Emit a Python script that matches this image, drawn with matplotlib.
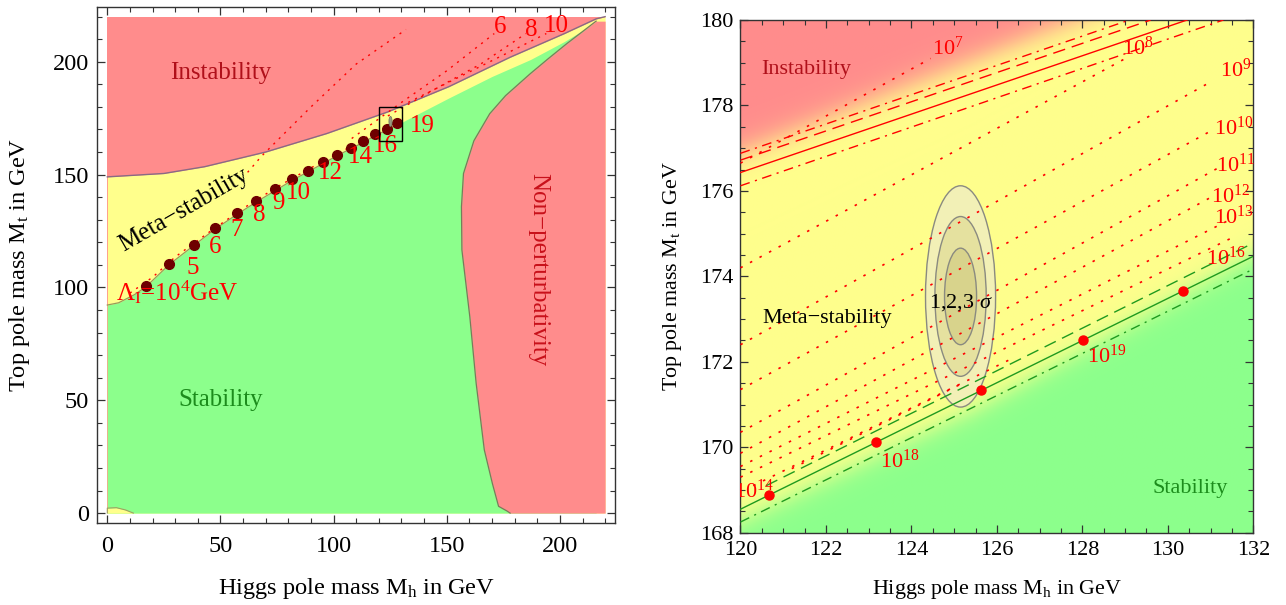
import matplotlib
matplotlib.use("Agg")
import matplotlib.pyplot as plt
import numpy as np
from matplotlib.patches import Rectangle, Ellipse

plt.rcParams['font.family'] = ['Liberation Serif', 'DejaVu Serif']
plt.rcParams['mathtext.fontset'] = 'custom'
plt.rcParams['mathtext.rm'] = 'Liberation Serif'
plt.rcParams['mathtext.it'] = 'Liberation Serif:italic'
plt.rcParams['mathtext.bf'] = 'Liberation Serif:bold'

RED = '#ff8c8c'
YEL = '#ffff8c'
GRN = '#8cff8c'
TXT_RED = '#b0101a'

# ---------------- left panel data (GeV) ----------------
instab_mh = [0, 25, 43, 70, 97, 124, 151, 178, 202, 216, 220]
instab_mt = [149, 150.5, 153.5, 160, 168.2, 177.8, 189, 202, 212.5, 219, 220]

stab_mh = [0, 5, 12, 17, 27.3, 38.1, 47.7, 57.2, 65.9, 74.2, 81.6, 88.8, 95.5,
           101.6, 107.6, 113.2, 118.4, 123.5, 128.2, 151, 170, 187, 202, 216]
stab_mt = [92.2, 93.2, 96.8, 100.2, 110.1, 118.5, 125.9, 132.3, 137.9, 142.9, 147.4,
           151.3, 155.0, 158.4, 161.5, 164.3, 167.3, 169.7, 172.2, 184, 193.5, 201, 209, 217.5]

nonpert_mt = [0, 1, 3, 13, 28, 57.5, 87, 116.6, 135.8, 150.5, 165, 177, 185, 194.8,
              201.5, 208, 213, 218]
nonpert_mh = [178, 176.5, 172.9, 170.2, 166.6, 163, 160.2, 156.7, 156.5, 157.4, 162, 169,
              176, 187, 195, 203, 209.5, 216]

blob_mh = [0, 0, 4, 8, 11.5]
blob_mt = [0, 2.2, 2.4, 1.4, 0]

dot_mh = [17, 27.3, 38.1, 47.7, 57.2, 65.9, 74.2, 81.6, 88.8, 95.5, 101.6, 107.6,
          113.2, 118.4, 123.5, 128.2]
dot_mt = [100.7, 110.6, 119, 126.4, 132.8, 138.4, 143.4, 147.9, 151.8, 155.5, 158.9,
          162, 164.8, 167.8, 170.2, 172.7]

num_labels = ['5', '6', '7', '8', '9', '10', '12', '14', '16', '19']
num_mh = [37.6, 47.6, 57.2, 67.1, 75.8, 84.3, 98.7, 111.7, 123.0, 139.0]
num_mt = [108.4, 118.0, 125.4, 132.0, 137.2, 142.0, 150.5, 157.9, 162.8, 171.6]

top_labels = ['6', '8', '10']
top_mh = [173.6, 187.5, 198.4]
top_mt = [215.5, 214.3, 215.8]

# dotted Lambda_I contours in the left panel
left_lines = [
    ([62, 68, 90, 110, 132], [151, 158, 180, 199, 214.3]),
    ([108, 130, 150, 171], [166, 182, 196, 212.5]),
    ([124, 145, 165, 185], [176, 188, 199, 212.5]),
    ([133, 155, 175, 194], [182, 193, 203, 212.5]),
    ([10, 20, 30, 45, 60, 75, 90, 105, 118], [97.5, 104.5, 113.5, 124.5, 135, 144.5, 153, 161, 168.5]),
]

# ---------------- right panel data (GeV) ----------------
red_solid = ([120, 130.45], [176.43, 180])
red_dash = ([120, 129.6], [176.72, 180])
red_dashdot_up = ([120, 129.1], [176.88, 180])
red_dashdot = ([120, 131.3], [176.12, 180])

grn_solid = ([120, 132], [168.55, 174.47])
grn_dash = ([120.6, 132], [169.1, 174.78])
grn_dashdot = ([120, 132], [168.25, 174.17])

# gradient edges of the shaded regions
instab_edge_mh = [120, 127.8, 132]
instab_edge_mt = [176.9, 180, 181.67]
stab_edge_mh = [120, 125.5, 132]
stab_edge_mt = [168.3, 170.9, 174.5]

right_dotted = [
    ([120, 124.45], [176.65, 179.1]),
    ([120, 129.1], [174.2, 179.15]),
    ([120, 131.0], [172.4, 178.55]),
    ([120, 131.0], [171.35, 177.4]),
    ([120, 131.2], [170.35, 176.55]),
    ([120, 131.1], [169.86, 175.9]),
    ([120, 131.5], [169.55, 175.35]),
    ([120, 131.6], [169.3, 174.95]),
    ([120.3, 126.3], [169.1, 172.05]),
    ([121.2, 125.2], [169.5, 171.5]),
]

rdot_mh = [120.66, 123.18, 125.63, 128.02, 130.36]
rdot_mt = [168.88, 170.12, 171.33, 172.51, 173.66]

exp_labels = ['$10^{7}$', '$10^{8}$', '$10^{9}$', '$10^{10}$', '$10^{11}$',
              '$10^{12}$', '$10^{13}$', '$10^{16}$', '$10^{18}$', '$10^{19}$']
exp_mh = [124.49, 128.93, 131.22, 131.08, 131.12, 131.02, 131.08, 130.9, 123.26, 128.11]
exp_mt = [179.33, 179.33, 178.83, 177.46, 176.59, 175.87, 175.38, 174.42, 169.67, 172.12]
cut_label, cut_mh, cut_mt = '$10^{14}$', 119.84, 168.96

# best fit and 1,2,3 sigma contours
fit_mh, fit_mt = 125.15, 173.53
sig_w = [0.82, 0.60, 0.375]
sig_h = [2.59, 1.87, 1.13]
sig_col = ['#f2f0b6', '#e5e19f', '#d8d38c']

fig = plt.figure(figsize=(12.86, 6.05), dpi=100)
ax1 = fig.add_axes([0.0757, 0.1355, 0.4026, 0.8534])
ax2 = fig.add_axes([0.5758, 0.1195, 0.39876, 0.84744])

# ---------------- left panel ----------------
ax1.fill_between([0, 220], [0, 0], [220, 220], color=RED, lw=0, zorder=1)
ax1.fill_between(instab_mh, 0, instab_mt, color=YEL, lw=0, zorder=2)
ax1.fill_between(stab_mh, 0, stab_mt, color=GRN, lw=0, zorder=3)
ax1.fill_betweenx(nonpert_mt, nonpert_mh, 220, color=RED, lw=0, zorder=4)
ax1.fill_between(blob_mh, 0, blob_mt, color=YEL, lw=0, zorder=4)
ax1.plot(blob_mh, blob_mt, color='#a0a060', lw=0.8, zorder=5)
ax1.plot(instab_mh, instab_mt, color='#8a6a84', lw=1.0, zorder=5)
ax1.plot(stab_mh[:19], stab_mt[:19], color='#9a9a5a', lw=0.9, zorder=5)
ax1.plot(nonpert_mh, nonpert_mt, color='#7a7a5a', lw=0.9, zorder=5)

for lx, ly in left_lines:
    ax1.plot(lx, ly, color='red', lw=1.0, ls=(0, (1.5, 4)), zorder=6)

ax1.plot(dot_mh, dot_mt, 'o', color='#6e0000', ms=7, zorder=7)
for lab, x, y in zip(num_labels, num_mh, num_mt):
    ax1.text(x, y, lab, color='red', fontsize=18, ha='center', va='center', zorder=8)
for lab, x, y in zip(top_labels, top_mh, top_mt):
    ax1.text(x, y, lab, color='red', fontsize=18, ha='center', va='center', zorder=8)
ax1.text(31, 98.1, r'$\Lambda_{\mathrm{I}}$=10$^{4}$GeV', color='red', fontsize=18,
         ha='center', va='center', zorder=8)

ax1.add_patch(Rectangle((120, 165), 10.3, 15, fill=False, ec='black', lw=1.0, zorder=9))
ax1.add_patch(Ellipse((fit_mh, fit_mt), 1.4, 4.5, fc='#9a9a80', ec='#707060', lw=0.5, zorder=8))

ax1.text(50, 195.2, 'Instability', color=TXT_RED, fontsize=18, ha='center', va='center', zorder=8)
ax1.text(50, 49.9, 'Stability', color='#1c8c1c', fontsize=18, ha='center', va='center', zorder=8)
ax1.text(33.8, 134.3, 'Meta\u2212stability', color='black', fontsize=18, ha='center',
         va='center', rotation=30, rotation_mode='anchor', zorder=8)
ax1.text(190.3, 108, 'Non\u2212perturbativity', color='#c8101a', fontsize=18, ha='center',
         va='center', rotation=-90, zorder=8)

ax1.set_xlim(-4.4, 224.4)
ax1.set_ylim(-4.4, 224.4)
ax1.set_xticks([0, 50, 100, 150, 200])
ax1.set_yticks([0, 50, 100, 150, 200])
ax1.set_xticks(np.arange(0, 221, 10), minor=True)
ax1.set_yticks(np.arange(0, 221, 10), minor=True)
ax1.tick_params(axis='x', pad=9, labelsize=17.5)
ax1.tick_params(axis='y', pad=6, labelsize=17.5)
ax1.set_xlabel(r'Higgs pole mass M$_{\mathrm{h}}$ in GeV', fontsize=17.6)
ax1.set_ylabel(r'Top pole mass M$_{\mathrm{t}}$ in GeV', fontsize=17.6)
ax1.xaxis.set_label_coords(0.5, -0.103)
ax1.yaxis.set_label_coords(-0.126, 0.5)

# ---------------- right panel ----------------
gx = np.linspace(120, 132, 700)
gy = np.linspace(168, 180, 700)
X, Y = np.meshgrid(gx, gy)
red_edge = np.interp(X, instab_edge_mh, instab_edge_mt)
grn_edge = np.interp(X, stab_edge_mh, stab_edge_mt)
wr = 1 / (1 + np.exp(-(Y - red_edge) / 0.2))
wg = 1 / (1 + np.exp((Y - grn_edge) / 0.18))
wy = np.clip(1 - wr - wg, 0, 1)
cr = np.array(matplotlib.colors.to_rgb(RED))
cy = np.array(matplotlib.colors.to_rgb(YEL))
cg = np.array(matplotlib.colors.to_rgb(GRN))
img = wr[..., None] * cr + wy[..., None] * cy + wg[..., None] * cg
img = np.clip(img / (wr + wy + wg)[..., None], 0, 1)
ax2.imshow(img, extent=[120, 132, 168, 180], origin='lower', aspect='auto',
           interpolation='bilinear', zorder=0)

for w, h, c in zip(sig_w, sig_h, sig_col):
    ax2.add_patch(Ellipse((fit_mh, fit_mt), 2 * w, 2 * h, fc=c, ec='#8a8a80', lw=1.0, zorder=2))

for lx, ly in right_dotted:
    ax2.plot(lx, ly, color='red', lw=1.2, ls=(0, (1.5, 5)), zorder=3)

ax2.plot(*red_solid, color='red', lw=1.0, zorder=3)
ax2.plot(*red_dash, color='red', lw=1.0, ls=(0, (9, 5)), zorder=3)
ax2.plot(*red_dashdot_up, color='red', lw=1.0, ls=(0, (7, 4, 1.5, 4)), zorder=3)
ax2.plot(*red_dashdot, color='red', lw=1.0, ls=(0, (7, 4, 1.5, 4)), zorder=3)
ax2.plot(*grn_solid, color='#1f9a1f', lw=1.0, zorder=3)
ax2.plot(*grn_dash, color='#1f9a1f', lw=1.0, ls=(0, (9, 5)), zorder=3)
ax2.plot(*grn_dashdot, color='#1f9a1f', lw=1.0, ls=(0, (7, 4, 1.5, 4)), zorder=3)

ax2.plot(rdot_mh, rdot_mt, 'o', color='red', ms=6.5, zorder=5)

for lab, x, y in zip(exp_labels, exp_mh, exp_mt):
    ax2.text(x, y, lab, color='red', fontsize=16, ha='left', va='center', zorder=6)
ax2.text(cut_mh, cut_mt, cut_label, color='red', fontsize=16, ha='left', va='center',
         zorder=6, clip_on=True)

ax2.text(fit_mh, 173.38, r'1,2,3 $\sigma$', color='black', fontsize=16, ha='center',
         va='center', zorder=6)
ax2.text(120.48, 178.83, 'Instability', color=TXT_RED, fontsize=16, ha='left', va='center', zorder=6)
ax2.text(120.51, 173.02, 'Meta\u2212stability', color='black', fontsize=16, ha='left', va='center', zorder=6)
ax2.text(129.65, 169.04, 'Stability', color='#1c8c1c', fontsize=16, ha='left', va='center', zorder=6)

ax2.set_xlim(120, 132)
ax2.set_ylim(168, 180)
ax2.set_xticks(np.arange(120, 133, 2))
ax2.set_yticks(np.arange(168, 181, 2))
ax2.set_xticks(np.arange(120, 132.01, 0.5), minor=True)
ax2.set_yticks(np.arange(168, 180.01, 0.5), minor=True)
ax2.tick_params(axis='x', pad=6, labelsize=16)
ax2.tick_params(axis='y', pad=5, labelsize=16)
ax2.set_xlabel(r'Higgs pole mass M$_{\mathrm{h}}$ in GeV', fontsize=15.8)
ax2.set_ylabel(r'Top pole mass M$_{\mathrm{t}}$ in GeV', fontsize=15.8)
ax2.xaxis.set_label_coords(0.5, -0.088)
ax2.yaxis.set_label_coords(-0.110, 0.5)

for ax in (ax1, ax2):
    ax.tick_params(which='both', direction='in', top=True, right=True, color='#333333')
    ax.tick_params(which='major', length=6, width=0.9)
    ax.tick_params(which='minor', length=3.5, width=0.8)
    for s in ax.spines.values():
        s.set_color('#333333')
        s.set_linewidth(1.0)

fig.savefig('out.png', dpi=100)
